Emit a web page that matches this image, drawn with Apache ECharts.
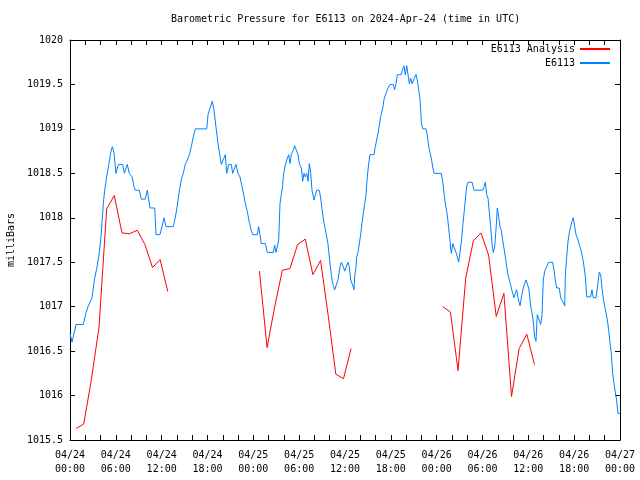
<!DOCTYPE html>
<html>
<head>
<meta charset="utf-8">
<script src="https://cdn.jsdelivr.net/npm/echarts@6/dist/echarts.min.js"></script>
<style>
html,body{margin:0;padding:0;background:#fff;}
#chart{width:640px;height:480px;}
</style>
</head>
<body>
<div id="chart"></div>
<script>
// ---- data (hours since 2024-04-24 00:00 UTC) ----
var xTickLabels = ['04/24\n00:00','04/24\n06:00','04/24\n12:00','04/24\n18:00',
  '04/25\n00:00','04/25\n06:00','04/25\n12:00','04/25\n18:00',
  '04/26\n00:00','04/26\n06:00','04/26\n12:00','04/26\n18:00','04/27\n00:00'];

var analysisTimes = [0.8,1.8,2.8,3.8,4.8,5.8,6.8,7.8,8.8,9.8,10.8,11.8,12.8, 18,
  24.8,25.8,26.8,27.8,28.8,29.8,30.8,31.8,32.8,33.8,34.8,35.8,36.8, 42,
  48.8,49.8,50.8,51.8,52.8,53.8,54.8,55.8,56.8,57.8,58.8,59.8,60.8];
var analysisValues = [1015.63,1015.68,1016.18,1016.77,1018.10,1018.25,1017.83,1017.82,1017.86,1017.70,1017.44,1017.53,1017.17, null,
  1017.40,1016.54,1017.00,1017.41,1017.43,1017.70,1017.76,1017.36,1017.52,1016.90,1016.24,1016.19,1016.53, null,
  1017.00,1016.94,1016.28,1017.32,1017.74,1017.83,1017.58,1016.89,1017.15,1015.99,1016.53,1016.69,1016.35];

var stationTimes = [0.00,0.26,0.79,1.74,2.09,2.36,2.88,3.14,3.23,3.50,3.76,4.02,4.28,4.36,4.54,4.71,4.88,5.14,5.33,5.54,
  5.76,6.02,6.19,6.38,6.90,7.11,7.50,7.76,8.12,8.38,8.55,9.07,9.33,9.86,10.12,10.30,10.47,11.09,11.26,11.78,
  12.04,12.31,12.57,13.52,13.78,14.05,14.31,14.57,14.83,15.09,15.36,15.62,15.88,16.14,16.40,17.90,18.07,18.24,18.63,18.85,
  19.11,19.37,19.64,19.81,20.07,20.33,20.51,20.78,21.12,21.30,21.56,21.73,21.99,22.25,22.52,22.69,22.95,23.21,23.47,23.73,
  23.92,24.52,24.70,24.87,25.04,25.57,25.83,26.61,26.79,26.97,27.32,27.49,27.66,27.84,27.92,28.10,28.37,28.63,28.80,28.97,
  29.23,29.41,29.67,29.85,30.02,30.28,30.46,30.63,30.80,30.99,31.16,31.33,31.51,31.68,31.94,32.11,32.29,32.63,32.82,32.99,
  33.25,33.51,33.77,34.03,34.30,34.47,34.65,34.91,35.08,35.35,35.52,35.78,35.96,36.22,36.39,36.56,36.75,37.01,37.18,37.27,
  37.44,37.53,37.70,37.87,38.05,38.22,38.40,38.58,38.75,38.92,39.10,39.27,39.80,39.97,40.32,40.49,40.67,40.93,41.10,41.37,
  41.63,41.89,42.32,42.50,42.68,42.85,43.37,43.55,43.72,43.89,44.08,44.25,44.42,44.60,44.77,45.03,45.29,45.46,45.65,45.82,
  45.99,46.17,46.60,46.77,46.96,47.13,47.30,47.48,47.65,48.61,48.79,48.96,49.13,49.31,49.39,49.48,49.57,49.74,49.83,49.92,
  50.10,50.36,50.53,50.70,50.88,51.05,51.22,51.41,51.58,51.75,51.93,52.10,52.63,52.89,54.03,54.20,54.37,54.55,54.72,54.89,
  55.07,55.24,55.41,55.59,55.76,55.94,56.12,56.29,56.46,56.64,56.81,56.99,57.17,57.34,57.51,57.77,57.95,58.12,58.29,58.47,
  58.64,58.91,59.08,59.34,59.52,59.69,59.86,60.05,60.31,60.48,60.65,60.83,61.00,61.17,61.43,61.62,61.79,61.96,62.14,62.40,
  62.67,63.19,63.36,63.53,63.71,64.05,64.24,64.76,64.84,65.02,65.19,65.36,65.55,65.72,65.89,66.07,66.24,66.50,66.76,66.94,
  67.12,67.29,67.46,67.64,68.16,68.33,68.51,68.86,69.03,69.29,69.47,69.64,69.82,70.00,70.17,70.34,70.52,70.69,70.86,71.04,
  71.21,71.38,71.56,71.73,72.00];
var stationValues = [1016.70,1016.60,1016.80,1016.80,1016.93,1017.00,1017.10,1017.10,1017.32,1017.43,1017.56,1017.75,1018.05,1018.16,1018.31,1018.41,1018.50,1018.63,1018.73,1018.80,
  1018.73,1018.50,1018.56,1018.60,1018.60,1018.50,1018.60,1018.50,1018.46,1018.35,1018.31,1018.31,1018.21,1018.21,1018.31,1018.21,1018.11,1018.11,1017.81,1017.81,
  1017.90,1018.00,1017.90,1017.90,1018.00,1018.14,1018.30,1018.43,1018.50,1018.60,1018.65,1018.71,1018.80,1018.91,1019.00,1019.00,1019.16,1019.21,1019.31,1019.21,
  1019.02,1018.84,1018.69,1018.60,1018.60,1018.71,1018.50,1018.60,1018.60,1018.50,1018.50,1018.60,1018.50,1018.46,1018.35,1018.28,1018.16,1018.07,1017.95,1017.86,
  1017.81,1017.81,1017.90,1017.81,1017.71,1017.71,1017.61,1017.61,1017.69,1017.61,1017.75,1018.16,1018.26,1018.36,1018.46,1018.56,1018.65,1018.71,1018.61,1018.71,
  1018.76,1018.81,1018.80,1018.71,1018.61,1018.56,1018.41,1018.50,1018.46,1018.50,1018.41,1018.61,1018.50,1018.31,1018.20,1018.22,1018.31,1018.31,1018.22,1018.10,
  1017.94,1017.83,1017.71,1017.49,1017.30,1017.24,1017.19,1017.19,1017.30,1017.45,1017.50,1017.45,1017.40,1017.40,1017.50,1017.45,1017.30,1017.24,1017.19,1017.34,
  1017.45,1017.56,1017.61,1017.61,1017.81,1017.94,1018.05,1018.16,1018.26,1018.46,1018.61,1018.71,1018.71,1018.80,1018.95,1019.04,1019.14,1019.23,1019.33,1019.40,
  1019.46,1019.50,1019.50,1019.44,1019.51,1019.61,1019.61,1019.67,1019.71,1019.61,1019.71,1019.61,1019.51,1019.57,1019.51,1019.51,1019.61,1019.55,1019.44,1019.34,
  1019.08,1019.00,1019.00,1018.93,1018.80,1018.73,1018.67,1018.57,1018.50,1018.50,1018.41,1018.28,1018.16,1018.07,1018.03,1017.96,1017.88,1017.75,1017.66,1017.60,
  1017.71,1017.71,1017.61,1017.56,1017.50,1017.61,1017.71,1017.90,1018.05,1018.20,1018.35,1018.40,1018.40,1018.31,1018.31,1018.35,1018.40,1018.26,1018.22,1018.20,
  1017.90,1017.71,1017.61,1017.67,1017.86,1018.11,1018.01,1017.90,1017.86,1017.75,1017.66,1017.56,1017.45,1017.36,1017.30,1017.21,1017.15,1017.10,1017.15,1017.19,
  1017.10,1017.01,1017.10,1017.21,1017.26,1017.30,1017.30,1017.21,1017.01,1016.93,1016.83,1016.66,1016.61,1016.91,1016.91,1016.80,1016.91,1017.30,1017.40,1017.45,
  1017.50,1017.50,1017.41,1017.30,1017.21,1017.21,1017.10,1017.01,1017.34,1017.56,1017.73,1017.83,1017.90,1017.96,1018.00,1017.90,1017.81,1017.75,1017.67,1017.62,
  1017.54,1017.45,1017.34,1017.11,1017.11,1017.19,1017.10,1017.10,1017.21,1017.39,1017.36,1017.21,1017.09,1017.00,1016.93,1016.85,1016.74,1016.59,1016.48,1016.25,
  1016.14,1016.04,1015.95,1015.80,1015.80];

var titleText = 'Barometric Pressure for E6113 on 2024-Apr-24 (time in UTC)';
var seriesNames = ['E6113 Analysis', 'E6113'];
var seriesColors = ['#ff0000', '#0080ff'];

function zip(a, b) { return a.map(function (t, i) { return [t, b[i]]; }); }

var FONT = 'DejaVu Sans Mono';
var tickStyle = { show: true, inside: true, length: 5, lineStyle: { color: '#000', width: 1 } };
var minorStyle = { show: true, splitNumber: 3, length: 5, lineStyle: { color: '#000', width: 1 } };

var chart = echarts.init(document.getElementById('chart'), null, { renderer: 'canvas' });
chart.setOption({
  animation: false,
  backgroundColor: '#fff',
  textStyle: { fontFamily: FONT },
  graphic: [{
    type: 'text', left: 171, top: 14,
    style: { text: titleText, font: '10px "DejaVu Sans Mono"', fill: '#000' }
  }],
  legend: {
    orient: 'vertical', right: 25, top: 39, align: 'right',
    itemWidth: 30, itemHeight: 2, itemGap: 4, icon: 'rect',
    textStyle: { fontFamily: FONT, fontSize: 10, color: '#000' },
    data: seriesNames
  },
  grid: { left: 70, right: 20, top: 40, bottom: 40, show: false, containLabel: false, outerBoundsMode: 'none' },
  xAxis: [{
    type: 'value', min: 0, max: 72, interval: 6, position: 'bottom',
    axisLine: { show: true, onZero: false, lineStyle: { color: '#000', width: 1 } },
    axisTick: tickStyle, minorTick: minorStyle,
    splitLine: { show: false },
    axisLabel: {
      margin: 8, fontFamily: FONT, fontSize: 10, color: '#000', lineHeight: 14,
      formatter: function (v) { return xTickLabels[Math.round(v / 6)]; }
    }
  }, {
    type: 'value', min: 0, max: 72, interval: 6, position: 'top',
    axisLine: { show: true, onZero: false, lineStyle: { color: '#000', width: 1 } },
    axisTick: tickStyle, minorTick: minorStyle,
    splitLine: { show: false }, axisLabel: { show: false }
  }],
  yAxis: [{
    type: 'value', min: 1015.5, max: 1020, interval: 0.5, position: 'left',
    name: 'milliBars', nameLocation: 'middle', nameGap: 54, nameRotate: 90,
    nameTextStyle: { fontFamily: FONT, fontSize: 10, color: '#000' },
    axisLine: { show: true, onZero: false, lineStyle: { color: '#000', width: 1 } },
    axisTick: tickStyle, splitLine: { show: false },
    axisLabel: { margin: 7, fontFamily: FONT, fontSize: 10, color: '#000',
      formatter: function (v) { return String(Math.round(v * 10) / 10); } }
  }, {
    type: 'value', min: 1015.5, max: 1020, interval: 0.5, position: 'right',
    axisLine: { show: true, onZero: false, lineStyle: { color: '#000', width: 1 } },
    axisTick: tickStyle, splitLine: { show: false }, axisLabel: { show: false }
  }],
  series: [{
    name: seriesNames[0], type: 'line', xAxisIndex: 0, yAxisIndex: 0,
    data: zip(analysisTimes, analysisValues), connectNulls: false,
    showSymbol: false, symbol: 'none',
    lineStyle: { color: seriesColors[0], width: 1 }, itemStyle: { color: seriesColors[0] }
  }, {
    name: seriesNames[1], type: 'line', xAxisIndex: 0, yAxisIndex: 0,
    data: zip(stationTimes, stationValues),
    showSymbol: false, symbol: 'none',
    lineStyle: { color: seriesColors[1], width: 1 }, itemStyle: { color: seriesColors[1] }
  }]
});
</script>
</body>
</html>
